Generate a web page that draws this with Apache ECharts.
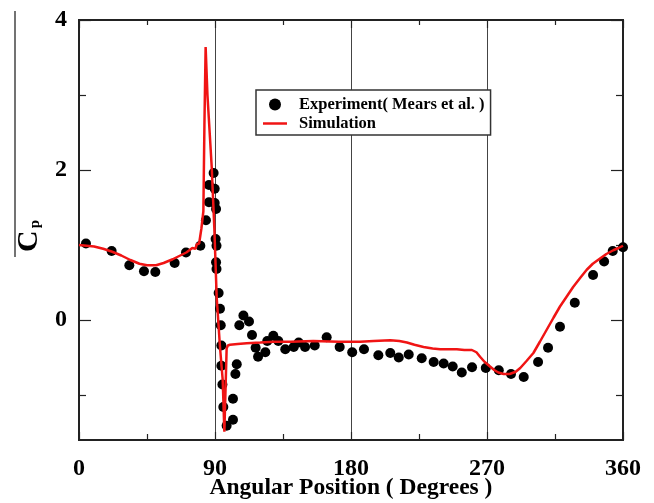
<!DOCTYPE html>
<html>
<head>
<meta charset="utf-8">
<script src="https://cdn.jsdelivr.net/npm/echarts@6/dist/echarts.min.js"></script>
<style>html,body{margin:0;padding:0;background:#fff;}#c{width:654px;height:503px;}</style>
</head>
<body>
<div id="c"></div>
<script>
// Experiment (Mears et al.)
const expX = [4.6,21.6,33.3,43,50.5,63.3,70.8,80.3,84,86,86,89.1,89.8,89.8,90.7,90.4,91,90.7,91,92.4,93.3,93.8,94.2,94.2,94.9,95.5,97.7,101.9,101.9,103.5,104.4,106.1,108.8,112.5,114.5,116.9,118.5,123.3,124.6,128.6,131.9,136.5,142.1,145.4,149.6,156,163.9,172.5,180.8,188.6,198.1,206,211.6,218.2,226.8,234.7,241.3,247.3,253.3,260.1,269.2,277.8,285.9,294.3,303.8,310.4,318.3,328.1,340.2,347.5,353.2,360];
const expY = [1.02,0.92,0.73,0.65,0.64,0.76,0.90,0.99,1.33,1.57,1.80,1.96,1.75,1.56,1.48,1.08,0.99,0.77,0.68,0.36,0.15,-0.07,-0.34,-0.61,-0.86,-1.16,-1.41,-1.33,-1.05,-0.72,-0.59,-0.07,0.06,-0.02,-0.20,-0.37,-0.49,-0.43,-0.28,-0.21,-0.28,-0.39,-0.36,-0.30,-0.36,-0.34,-0.23,-0.36,-0.43,-0.39,-0.47,-0.44,-0.50,-0.46,-0.51,-0.56,-0.58,-0.62,-0.70,-0.63,-0.64,-0.67,-0.72,-0.76,-0.56,-0.37,-0.09,0.23,0.60,0.78,0.92,0.97];
// Simulation
const simX = [0,5,10,16,22,28,34,40,45,51,56,62,67,71,75,76,77,78,79.5,81,82.3,83,83.8,85,87.8,89.6,91.1,93.3,95.1,96.2,97,97.7,98.5,99.9,105,111,120,128.6,140,155,172,186,195,206,212,217,222,228,234,239,245,250,255,260,263,265.4,268.5,272,275,277.5,281,285,289,292,296,300.7,305,309.5,314,318.3,323,327,332,336,340,344.8,349,353.6,357,360];
const simY = [1.00,0.99,0.98,0.95,0.91,0.86,0.80,0.75,0.73,0.73,0.76,0.81,0.86,0.90,0.96,0.98,0.95,1.01,1.02,1.22,1.45,2.6,3.64,3.0,2.05,1.2,0.31,-0.36,-0.80,-1.49,-0.9,-0.38,-0.34,-0.33,-0.32,-0.31,-0.30,-0.29,-0.29,-0.28,-0.29,-0.29,-0.28,-0.27,-0.28,-0.30,-0.33,-0.36,-0.38,-0.39,-0.39,-0.39,-0.40,-0.40,-0.43,-0.49,-0.56,-0.62,-0.67,-0.70,-0.72,-0.72,-0.69,-0.64,-0.55,-0.44,-0.29,-0.13,0.03,0.18,0.32,0.44,0.57,0.67,0.75,0.82,0.88,0.93,0.96,0.99];
// Axis ticks / labels
const yMajor = [0, 2, 4];
const yMinor = [-1, 1, 3];
const seriesNames = ['Experiment( Mears et al. )', 'Simulation'];

const font = '"Liberation Serif", "Times New Roman", serif';
const chart = echarts.init(document.getElementById('c'), null, {renderer: 'canvas'});
const axisLineStyle = {color: '#222', width: 2};
const xCommon = {
  type: 'value', min: 0, max: 360, interval: 90,
  axisLine: {show: true, onZero: false, lineStyle: axisLineStyle},
  axisTick: {show: true, inside: true, length: 8, lineStyle: {color: '#222', width: 1.2}},
  minorTick: {show: true, splitNumber: 2, length: 6, lineStyle: {color: '#222', width: 1.2}},
};
const yBase = {
  type: 'value', min: -1.6, max: 4,
  axisLine: {show: true, onZero: false, lineStyle: axisLineStyle},
  splitLine: {show: false}
};
chart.setOption({
  animation: false,
  backgroundColor: '#fff',
  grid: {left: 79, right: 31, top: 20, bottom: 63, containLabel: false, outerBoundsMode: 'none'},
  legend: {
    left: 256, top: 90, orient: 'vertical',
    backgroundColor: '#fff', borderColor: '#333', borderWidth: 1.5, borderRadius: 0,
    padding: [6, 6, 3, 7], itemGap: 2, itemWidth: 24, itemHeight: 12,
    textStyle: {fontFamily: font, fontWeight: 'bold', fontSize: 16.5, color: '#000', padding: [0, 0, 0, 7]},
    data: [
      {name: seriesNames[0], icon: 'circle', itemStyle: {color: '#000', opacity: 1}},
      {name: seriesNames[1], icon: 'path://M0,0 L24,0 L24,2.5 L0,2.5 Z', itemStyle: {color: '#f01414'}}
    ]
  },
  xAxis: [
    Object.assign({}, xCommon, {
      position: 'bottom',
      name: 'Angular Position ( Degrees )', nameLocation: 'middle', nameGap: 36, nameMoveOverlap: false,
      nameTextStyle: {fontFamily: font, fontWeight: 'bold', fontSize: 23.5, color: '#000'},
      axisLabel: {show: true, margin: 17, fontFamily: font, fontWeight: 'bold', fontSize: 24, color: '#000'},
      splitLine: {show: true, lineStyle: {color: '#444', width: 1}}
    }),
    Object.assign({}, xCommon, {
      position: 'top', axisLabel: {show: false}, splitLine: {show: false},
      minorTick: {show: true, splitNumber: 2, length: 5, lineStyle: {color: '#222', width: 1.2}}
    })
  ],
  yAxis: [
    Object.assign({}, yBase, {
      position: 'left',
      name: '{c|C}{p|p}', nameLocation: 'middle', nameGap: 34, nameRotate: 90,
      nameTextStyle: {padding: [0, 12, 0, 0], rich: {
        c: {fontFamily: font, fontWeight: 'bold', fontSize: 30, color: '#000'},
        p: {fontFamily: font, fontWeight: 'bold', fontSize: 15, color: '#000', padding: [13, 0, 0, 2]}
      }},
      axisTick: {show: true, inside: true, length: 12, customValues: yMajor, lineStyle: {color: '#222', width: 1.2}},
      axisLabel: {show: true, margin: 12, customValues: yMajor, fontFamily: font, fontWeight: 'bold', fontSize: 24, color: '#000'}
    }),
    Object.assign({}, yBase, {
      position: 'left',
      axisTick: {show: true, inside: true, length: 7, customValues: yMinor, lineStyle: {color: '#222', width: 1.2}},
      axisLabel: {show: false}
    }),
    Object.assign({}, yBase, {
      position: 'right',
      axisTick: {show: true, inside: true, length: 12, customValues: yMajor, lineStyle: {color: '#222', width: 1.2}},
      axisLabel: {show: false}
    }),
    Object.assign({}, yBase, {
      position: 'right',
      axisTick: {show: true, inside: true, length: 7, customValues: yMinor, lineStyle: {color: '#222', width: 1.2}},
      axisLabel: {show: false}
    })
  ],
  graphic: [{
    type: 'line', z: 100,
    shape: {x1: 15, y1: 11, x2: 15, y2: 257},
    style: {stroke: '#444', lineWidth: 1.5}
  }],
  series: [
    {
      name: seriesNames[0], type: 'scatter', xAxisIndex: 0, yAxisIndex: 0,
      symbol: 'circle', symbolSize: 10, itemStyle: {color: '#000', opacity: 1}, z: 2,
      data: expX.map((x, i) => [x, expY[i]])
    },
    {
      name: seriesNames[1], type: 'line', xAxisIndex: 0, yAxisIndex: 0,
      symbol: 'none', showSymbol: false, z: 3,
      lineStyle: {color: '#f01414', width: 2.5}, itemStyle: {color: '#f01414'},
      data: simX.map((x, i) => [x, simY[i]])
    }
  ]
});
</script>
</body>
</html>
